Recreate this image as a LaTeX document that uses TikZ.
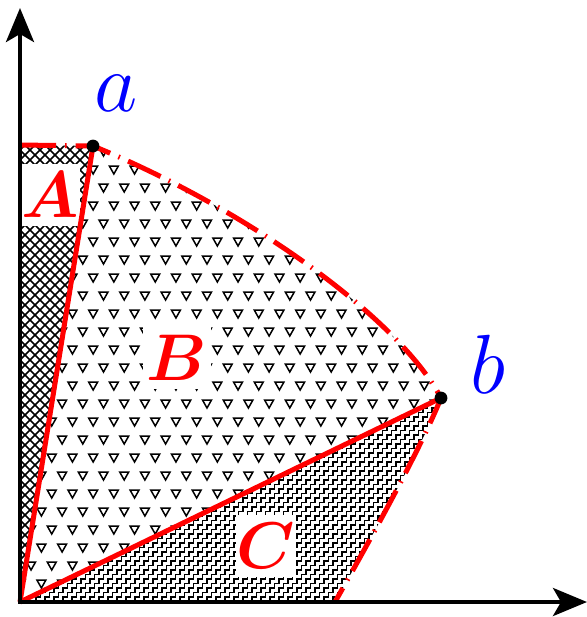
\RequirePackage{fix-cm}
\documentclass[tikz,border=0pt]{standalone}
\usepackage{amsmath, amssymb}
\usepackage{bm}
\usetikzlibrary{arrows.meta}

\begin{document}
\begin{tikzpicture}[x=0.5pt,y=-0.5pt,
  hatch/.style={line width=0.75pt},
  redline/.style={red,line width=2.5pt},
  bound/.style={red,line width=2.5pt,dash pattern=on 18pt off 4.5pt on 0.8pt off 4.5pt},
  axis/.style={line width=2pt,{Stealth[length=17pt,width=14pt,inset=4pt]}-{Stealth[length=17pt,width=14pt,inset=4pt]}},
  lettertag/.style={fill=white,inner sep=0pt,minimum width=30pt,minimum height=31pt,text=red,font=\fontsize{33}{36}\selectfont},
  pointtag/.style={text=blue,font=\fontsize{42}{46}\selectfont}]
\useasboundingbox (0,0) rectangle (587,617);
\coordinate (O) at (20,602);
\coordinate (top) at (20,145);
\coordinate (a) at (93,146);
\coordinate (b) at (441,398);
\coordinate (foot) at (335,602);
\coordinate (ytip) at (20,8);
\coordinate (xtip) at (587,602);

% region A: cross hatch
\begin{scope}
\clip (O) -- (top) -- (a) -- cycle;
\foreach \x in {-450,-440,...,100} {
  \draw[hatch] (\x,140) -- ++(470,470);
  \draw[hatch] (\x+470,140) -- ++(-470,470);
}
\end{scope}

% region B: triangles
\begin{scope}
\clip (O) -- (a) .. controls (250,210) and (400,320) .. (b) -- cycle;
\foreach \r in {0,...,25} {
  \pgfmathsetmacro{\ry}{152+18*\r}
  \pgfmathsetmacro{\rx}{mod(\r,2)*10.35}
  \foreach \c in {0,...,21}
    \draw[hatch,line join=miter] (\rx+20.7*\c-4.5,\ry-4) -- ++(9,0) -- ++(-4.5,8) -- cycle;
}
\end{scope}

% region C: stairs
\begin{scope}
\clip (O) -- (b) .. controls (420,450) and (370,540) .. (foot) -- cycle;
\foreach \s in {-24,...,50}
  \draw[hatch] (9*\s,606) foreach \k in {0,...,47} { -- ++(4.5,0) -- ++(0,-4.5) };
\end{scope}

\node[lettertag] (A) at (50,195) {$\bm{A}$};
\node[lettertag,minimum width=34pt] (B) at (177,358) {$\bm{B}$};
\node[lettertag] (C) at (266,546) {$\bm{C}$};

% boundary
\draw[redline] (O) -- (a);
\draw[redline] (O) -- (b);
\draw[bound] (top) -- (a) .. controls (250,210) and (400,320) .. (b)
  .. controls (420,450) and (370,540) .. (foot);

\draw[axis] (ytip) -- (O) -- (xtip);

\fill (a) circle (3.2pt);
\fill (b) circle (3.2pt);
\node[pointtag] (alab) at (116,93) {$a$};
\node[pointtag] (blab) at (488,364) {$b$};
\end{tikzpicture}
\end{document}
